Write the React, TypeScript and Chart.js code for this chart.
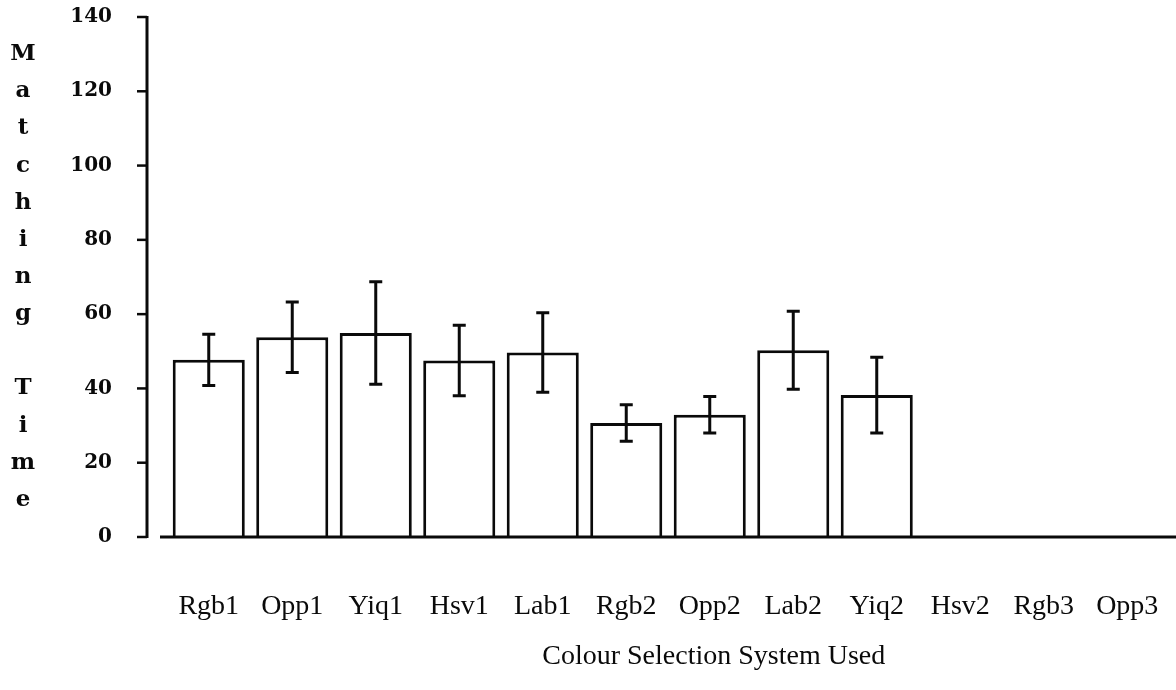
import React, { useEffect, useRef } from "react";
import { Chart, registerables } from "chart.js";

Chart.register(...registerables);

const categories = ["Rgb1", "Opp1", "Yiq1", "Hsv1", "Lab1", "Rgb2", "Opp2", "Lab2", "Yiq2", "Hsv2", "Rgb3", "Opp3"];
const meanTimes: (number | null)[] = [47.7, 53.8, 54.9, 47.5, 49.7, 30.7, 32.9, 50.3, 38.2, null, null, null];
const errorHalf: (number | null)[] = [6.9, 9.5, 13.8, 9.5, 10.7, 4.9, 4.9, 10.5, 10.2, null, null, null];
const yMin = 0;
const yMax = 140;
const yStep = 20;
const yTitle = "Matching Time";
const xTitle = "Colour Selection System Used";

const INK = "#0a0a0a";

const axesPlugin = {
  id: "paperAxes",
  afterDatasetsDraw(chart: any) {
    const { ctx, chartArea } = chart;
    const y = chart.scales.y;
    const x = chart.scales.x;
    const meta = chart.getDatasetMeta(0);
    ctx.save();
    ctx.strokeStyle = INK;
    ctx.fillStyle = INK;

    // error bars
    ctx.lineWidth = 3;
    meta.data.forEach((bar: any, i: number) => {
      const m = meanTimes[i];
      const e = errorHalf[i];
      if (m == null || e == null) return;
      const bx = bar.x;
      const yt = y.getPixelForValue(m + e);
      const yb = y.getPixelForValue(m - e);
      ctx.beginPath();
      ctx.moveTo(bx, yt);
      ctx.lineTo(bx, yb);
      ctx.moveTo(bx - 6.5, yt);
      ctx.lineTo(bx + 6.5, yt);
      ctx.moveTo(bx - 6.5, yb);
      ctx.lineTo(bx + 6.5, yb);
      ctx.stroke();
    });

    // y axis line and tick marks
    const axisX = chartArea.left - 20;
    const y0 = y.getPixelForValue(yMin);
    const yTop = y.getPixelForValue(yMax);
    ctx.lineWidth = 3;
    ctx.beginPath();
    ctx.moveTo(axisX, yTop - 1);
    ctx.lineTo(axisX, y0 + 1);
    ctx.stroke();
    ctx.lineWidth = 2.5;
    for (let v = yMin; v <= yMax; v += yStep) {
      const py = y.getPixelForValue(v);
      ctx.beginPath();
      ctx.moveTo(axisX - 10, py);
      ctx.lineTo(axisX, py);
      ctx.stroke();
    }

    // x baseline
    ctx.lineWidth = 3;
    ctx.beginPath();
    ctx.moveTo(chartArea.left - 7, y0);
    ctx.lineTo(chart.width, y0);
    ctx.stroke();

    // y title, stacked letters
    ctx.font = "bold 23px 'DejaVu Serif'";
    ctx.textAlign = "center";
    ctx.textBaseline = "middle";
    const letters = yTitle.split("");
    letters.forEach((ch, k) => {
      if (ch === " ") return;
      const py = y.getPixelForValue(yMax - 10 * (k + 1));
      ctx.fillText(ch, 23, py);
    });

    // x title
    ctx.font = "28px 'Liberation Serif'";
    ctx.textAlign = "center";
    ctx.textBaseline = "middle";
    ctx.fillText(xTitle, x.getPixelForValue(6) + 4, 657);

    ctx.restore();
  },
};

export default function App() {
  const ref = useRef<HTMLCanvasElement | null>(null);
  useEffect(() => {
    if (!ref.current) return;
    const chart = new Chart(ref.current, {
      type: "bar",
      data: {
        labels: categories,
        datasets: [
          {
            data: meanTimes as any,
            backgroundColor: "#ffffff",
            borderColor: INK,
            borderWidth: 3,
            barPercentage: 0.863,
            categoryPercentage: 1,
          },
        ],
      },
      options: {
        animation: false,
        responsive: false,
        layout: { padding: { top: 17, right: 7, left: 0, bottom: 0 } },
        plugins: {
          legend: { display: false },
          tooltip: { enabled: false },
        },
        scales: {
          x: {
            type: "category",
            offset: true,
            grid: { display: false, drawTicks: false },
            border: { display: false },
            ticks: {
              autoSkip: false,
              maxRotation: 0,
              minRotation: 0,
              padding: 53,
              color: INK,
              font: { family: "'Liberation Serif'", size: 28 },
            },
            afterFit: (s: any) => {
              s.height = 153;
              s.paddingLeft = 0;
              s.paddingRight = 0;
            },
          },
          y: {
            min: yMin,
            max: yMax,
            grid: { display: false, drawTicks: false },
            border: { display: false },
            ticks: {
              stepSize: yStep,
              padding: 55,
              color: INK,
              font: { family: "'DejaVu Serif'", size: 20, weight: "bold" },
            },
            afterFit: (s: any) => {
              s.width = 167;
              s.paddingTop = 0;
              s.paddingBottom = 0;
            },
          },
        },
      },
      plugins: [axesPlugin],
    });
    return () => chart.destroy();
  }, []);
  return (
    <div style={{ position: "absolute", left: 0, top: 0, width: 1176, height: 690, background: "#fff" }}>
      <canvas ref={ref} width={1176} height={690} style={{ display: "block" }} />
    </div>
  );
}
